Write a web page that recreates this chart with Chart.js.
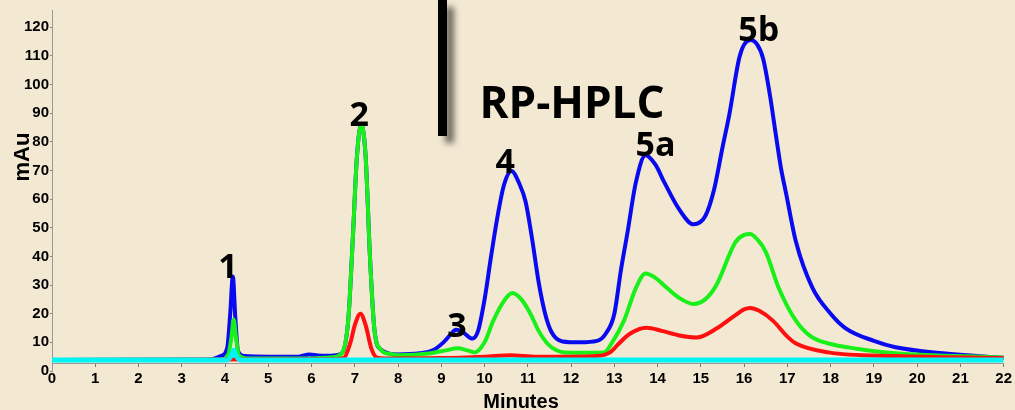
<!DOCTYPE html>
<html>
<head>
<meta charset="utf-8">
<script src="https://cdn.jsdelivr.net/npm/chart.js@4.4.0/dist/chart.umd.min.js"></script>
<style>
  html, body { margin: 0; padding: 0; background: #f3e9d3; }
  #wrap { width: 1015px; height: 410px; position: relative; }
</style>
</head>
<body>
<div id="wrap"><canvas id="hplc"></canvas></div>
<script>
// RP-HPLC chromatogram - 4 detector channels
const xTicks = [0,1,2,3,4,5,6,7,8,9,10,11,12,13,14,15,16,17,18,19,20,21,22];
const yTicks = [0,10,20,30,40,50,60,70,80,90,100,110,120];

const blueT = [0, 3.6, 3.9, 4.05, 4.12, 4.18, 4.24, 4.3, 4.45, 5.0, 5.7, 5.95, 6.15, 6.4, 6.5, 6.7, 6.85, 6.95, 7.05, 7.15, 7.25, 7.35, 7.45, 7.6, 8.0, 8.5, 8.8, 9.05, 9.2, 9.34, 9.5, 9.72, 9.85, 10.0, 10.15, 10.3, 10.45, 10.62, 10.8, 10.95, 11.1, 11.25, 11.4, 11.55, 11.8, 12.2, 12.6, 12.8, 13.0, 13.15, 13.3, 13.5, 13.72, 13.95, 14.15, 14.5, 14.83, 15.1, 15.3, 15.5, 15.66, 15.9, 16.14, 16.3, 16.44, 16.6, 16.74, 16.85, 16.97, 17.2, 17.58, 18.0, 18.34, 19.0, 19.5, 20.6, 22];
const blueV = [3.8, 3.9, 5.2, 8, 20, 33, 18, 7, 5.2, 5.0, 5.0, 5.8, 5.4, 5.3, 5.4, 6.2, 18, 45, 75, 86, 75, 40, 15, 7.5, 5.8, 6.2, 7.2, 10, 12.5, 14.4, 13.5, 11.3, 14, 25, 40, 54, 65, 69.8, 65.5, 59, 46, 31, 20, 13.5, 10.3, 10, 10.5, 13, 20, 35, 48, 66, 75.3, 72, 66, 56.4, 51.2, 54, 63, 78, 89.7, 110, 115.5, 114, 109, 96, 81.8, 71, 62, 45, 29, 20, 15, 10.5, 8.3, 6.2, 4.6];

const greenT = [0, 3.9, 4.08, 4.15, 4.2, 4.25, 4.32, 4.5, 6.0, 6.5, 6.7, 6.85, 6.95, 7.05, 7.15, 7.25, 7.35, 7.45, 7.6, 7.8, 8.0, 8.76, 9.1, 9.38, 9.6, 9.77, 10.0, 10.2, 10.45, 10.64, 10.85, 11.06, 11.25, 11.45, 11.65, 11.84, 12.3, 12.76, 12.95, 13.22, 13.5, 13.72, 13.95, 14.14, 14.5, 14.83, 15.1, 15.36, 15.8, 16.0, 16.14, 16.3, 16.5, 16.8, 17.2, 17.55, 17.95, 18.6, 19.5, 21.8, 22];
const greenV = [3.8, 3.9, 6, 12, 18, 12, 5.5, 4.4, 4.4, 4.8, 6.2, 18, 45, 75, 86, 75, 40, 15, 7.5, 6, 5.5, 6.2, 7.2, 7.9, 7.2, 6.5, 10, 17.5, 24.5, 27.2, 25, 20, 14, 9.6, 7.3, 6.5, 6.4, 6.5, 10, 17.5, 29, 34, 32.5, 30, 25.5, 23.4, 25, 30, 45, 47.5, 47.8, 46, 41.6, 29, 17.5, 12, 9.6, 7.8, 6.2, 4.8, 4.7];

const redT = [0, 6.5, 6.75, 6.9, 7.0, 7.13, 7.25, 7.38, 7.5, 7.7, 9.0, 10.0, 10.6, 11.2, 12.0, 12.6, 12.9, 13.1, 13.36, 13.74, 14.1, 14.5, 14.9, 15.36, 15.8, 16.0, 16.14, 16.35, 16.67, 17.0, 17.2, 17.95, 19.5, 22];
const redV = [3.8, 4.2, 4.6, 10, 16, 20, 16, 8, 4.8, 4.4, 4.5, 5.0, 5.5, 5.0, 5.0, 5.2, 6.5, 9.5, 13, 15.1, 14, 12.4, 11.7, 14.8, 19.5, 21.5, 22, 21, 17.5, 12, 9.6, 6.5, 5.2, 4.5];

const cyanT = [0, 4.05, 4.15, 4.2, 4.25, 4.35, 22];
const cyanV = [3.8, 3.8, 5.5, 7.2, 5.5, 3.8, 3.8];

// peak annotations (text baseline sits at time/value)
const peakNames = ['1', '2', '3', '4', '5a', '5b'];
const peakTimes = [4.07, 7.1, 9.36, 10.48, 13.95, 16.34];
const peakValues = [32.3, 85.6, 11.7, 69.1, 75, 115.2];

const pts = (t, v) => t.map((x, i) => ({ x: x, y: v[i] }));

function line(label, t, v, color, width, order) {
  return {
    label: label,
    data: pts(t, v),
    borderColor: color,
    borderWidth: width,
    pointRadius: 0,
    fill: false,
    cubicInterpolationMode: 'monotone',
    order: order
  };
}

const decor = {
  id: 'decor',
  beforeDraw(chart) {
    const c = chart.ctx;
    c.save();
    c.fillStyle = '#f3e9d3';
    c.fillRect(0, 0, chart.width, chart.height);
    c.restore();
  },
  afterDraw(chart) {
    const c = chart.ctx;
    const xs = chart.scales.x, ys = chart.scales.y;
    c.save();

    // black bar with shadow
    c.shadowColor = 'rgba(0,0,0,0.55)';
    c.shadowBlur = 6;
    c.shadowOffsetX = 7;
    c.shadowOffsetY = 7;
    c.fillStyle = '#000';
    c.fillRect(438, 0, 9, 136);
    c.shadowColor = 'transparent';

    c.fillStyle = '#000';
    c.textAlign = 'center';
    c.textBaseline = 'alphabetic';

    c.font = 'bold 44px "Open Sans"';
    c.fillText('RP-HPLC', 572, 118);

    c.font = 'bold 34px "Open Sans"';
    peakNames.forEach((n, i) => {
      c.fillText(n, xs.getPixelForValue(peakTimes[i]), ys.getPixelForValue(peakValues[i]));
    });

    // axis titles
    c.font = 'bold 20px "Liberation Sans"';
    c.fillText('Minutes', 521, 408);
    c.translate(29, 157);
    c.rotate(-Math.PI / 2);
    c.font = 'bold 22px "Liberation Sans"';
    c.fillText('mAu', 0, 0);
    c.restore();
  }
};

// lower order is drawn on top: cyan over red over green over blue
new Chart(document.getElementById('hplc'), {
  type: 'line',
  data: {
    datasets: [
      line('cyan', cyanT, cyanV, '#00f4f4', 5, 0),
      line('red', redT, redV, '#ff1010', 4, 1),
      line('green', greenT, greenV, '#19f019', 4, 2),
      line('blue', blueT, blueV, '#0a0af0', 4, 3)
    ]
  },
  options: {
    responsive: true,
    maintainAspectRatio: false,
    animation: false,
    layout: { padding: { top: 5, right: 5, bottom: 39, left: 0 } },
    plugins: { legend: { display: false }, tooltip: { enabled: false } },
    scales: {
      x: {
        type: 'linear',
        position: { y: 2.5 },
        min: 0,
        max: 22,
        afterBuildTicks: s => { s.ticks = xTicks.map(v => ({ value: v })); },
        grid: { drawOnChartArea: false, drawTicks: true, tickLength: 3, color: '#777' },
        border: { display: true, color: '#999', dash: [1, 2], width: 1 },
        ticks: {
          autoSkip: false, maxRotation: 0, padding: 3, color: '#000',
          font: { family: 'Liberation Sans', weight: 'bold', size: 15 }
        }
      },
      y: {
        min: 0,
        max: 126,
        afterBuildTicks: s => { s.ticks = yTicks.map(v => ({ value: v })); },
        afterFit: s => { s.width = 52; },
        grid: { drawOnChartArea: false, drawTicks: true, tickLength: 2, color: '#888' },
        border: { display: true, color: '#999', dash: [1, 2], width: 1 },
        ticks: {
          padding: 1, color: '#000',
          font: { family: 'Liberation Sans', weight: 'bold', size: 15 }
        }
      }
    }
  },
  plugins: [decor]
});
</script>
</body>
</html>
